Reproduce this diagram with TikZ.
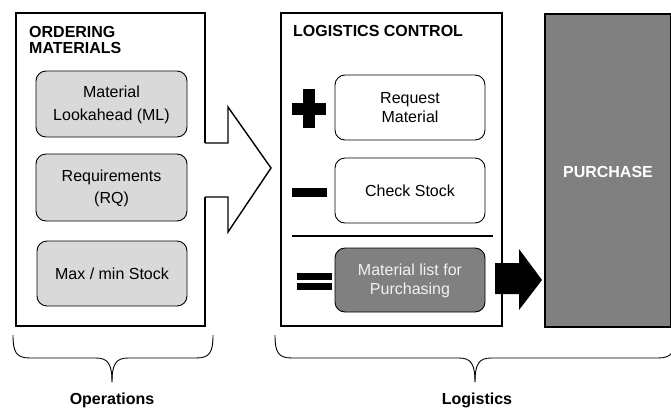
\documentclass[tikz,border=0pt]{standalone}
\usepackage{fontspec}
\setmainfont{Liberation Sans}
\definecolor{lightfill}{HTML}{D9D9D9}
\definecolor{darkfill}{HTML}{808080}
\definecolor{paletext}{HTML}{F2F2F2}
\begin{document}
\begin{tikzpicture}[x=1pt,y=-1pt,
  outerbox/.style={draw=black,line width=2pt,fill=white},
  lbox/.style={draw=black,line width=0.9pt,rounded corners=10pt,fill=lightfill,
    align=center,font=\fontsize{16}{22}\selectfont},
  mbox/.style={draw=black,line width=0.9pt,rounded corners=10pt,fill=white,
    align=center,font=\fontsize{16}{19}\selectfont},
  title/.style={font=\fontsize{16}{16.5}\selectfont\bfseries,align=left,anchor=north west,inner sep=0pt},
  bracel/.style={draw=black,line width=0.9pt},
  lbl/.style={font=\fontsize{16}{19}\selectfont\bfseries}
]
\useasboundingbox (0,0) rectangle (671,410);

% outer frames
\draw[outerbox] (16,13) rectangle (205,326);
\draw[outerbox] (281,13) rectangle (502,326);
\node[draw=black,line width=2pt,fill=darkfill,minimum width=126pt,minimum height=313pt,anchor=north west,inner sep=0pt]
  (purchase) at (544,13) {};
\node[font=\fontsize{16}{19}\selectfont\bfseries,text=white] at (608,172) {PURCHASE};

% titles
\node[title] (t1) at (29,26) {ORDERING\\MATERIALS};
\node[title] (t2) at (293,25) {LOGISTICS CONTROL};

% left boxes
\path[lbox] (36,71) rectangle (187,137);
\node[align=center,font=\fontsize{16}{23}\selectfont] (ml) at (111.5,105) {Material\\Lookahead (ML)};
\path[lbox] (36,154) rectangle (187,221);
\node[align=center,font=\fontsize{16}{22}\selectfont] (rq) at (111.5,188) {Requirements\\(RQ)};
\path[lbox] (37,241) rectangle (187,306);
\node[font=\fontsize{16}{19}\selectfont] (mm) at (112,274) {Max / min Stock};

% hollow arrow
\fill[white] (203,143) -- (228,143) -- (228,107) -- (271,168) -- (228,232) -- (228,197) -- (203,197) -- cycle;
\draw[line width=1.4pt,line join=miter] (205,143) -- (228,143) -- (228,107) -- (271,168) -- (228,232) -- (228,197) -- (205,197);

% middle boxes
\path[mbox] (335,75) rectangle (485,140);
\node[align=center,font=\fontsize{16}{19}\selectfont] (req) at (410,108) {Request\\Material};
\path[mbox] (335,158) rectangle (485,223);
\node[font=\fontsize{16}{19}\selectfont] (chk) at (410,191) {Check Stock};
\path[draw=black,line width=0.9pt,rounded corners=10pt,fill=darkfill] (335,248) rectangle (485,312);
\node[align=center,font=\fontsize{16}{19}\selectfont,text=paletext] (mlp) at (410,281) {Material list for\\Purchasing};

% operators
\fill[black] (303,89) rectangle (315,128);
\fill[black] (292,103) rectangle (326,115);
\fill[black] (292,188) rectangle (327,197);
\fill[black] (297,273) rectangle (332,280);
\fill[black] (297,283) rectangle (332,290);
\draw[line width=1.4pt] (292,236) -- (493,236);

% black arrow
\fill[black] (495,263) -- (519,263) -- (519,249) -- (542,280) -- (519,310) -- (519,294) -- (495,294) -- cycle;

% braces
\draw[bracel] (13,335) .. controls (13,352) and (16,358) .. (30,358) -- (96,358)
  .. controls (108,358) and (112,364) .. (112,382);
\draw[bracel] (213,335) .. controls (213,352) and (210,358) .. (196,358) -- (128,358)
  .. controls (116,358) and (112,364) .. (112,382);
\draw[bracel] (275,335) .. controls (275,352) and (278,358) .. (292,358) -- (459,358)
  .. controls (471,358) and (475,364) .. (475,382);
\draw[bracel] (675,335) .. controls (675,352) and (672,358) .. (658,358) -- (491,358)
  .. controls (479,358) and (475,364) .. (475,382);

\node[lbl] (ops) at (112,400) {Operations};
\node[lbl] (log) at (477,400) {Logistics};
\end{tikzpicture}
\end{document}
